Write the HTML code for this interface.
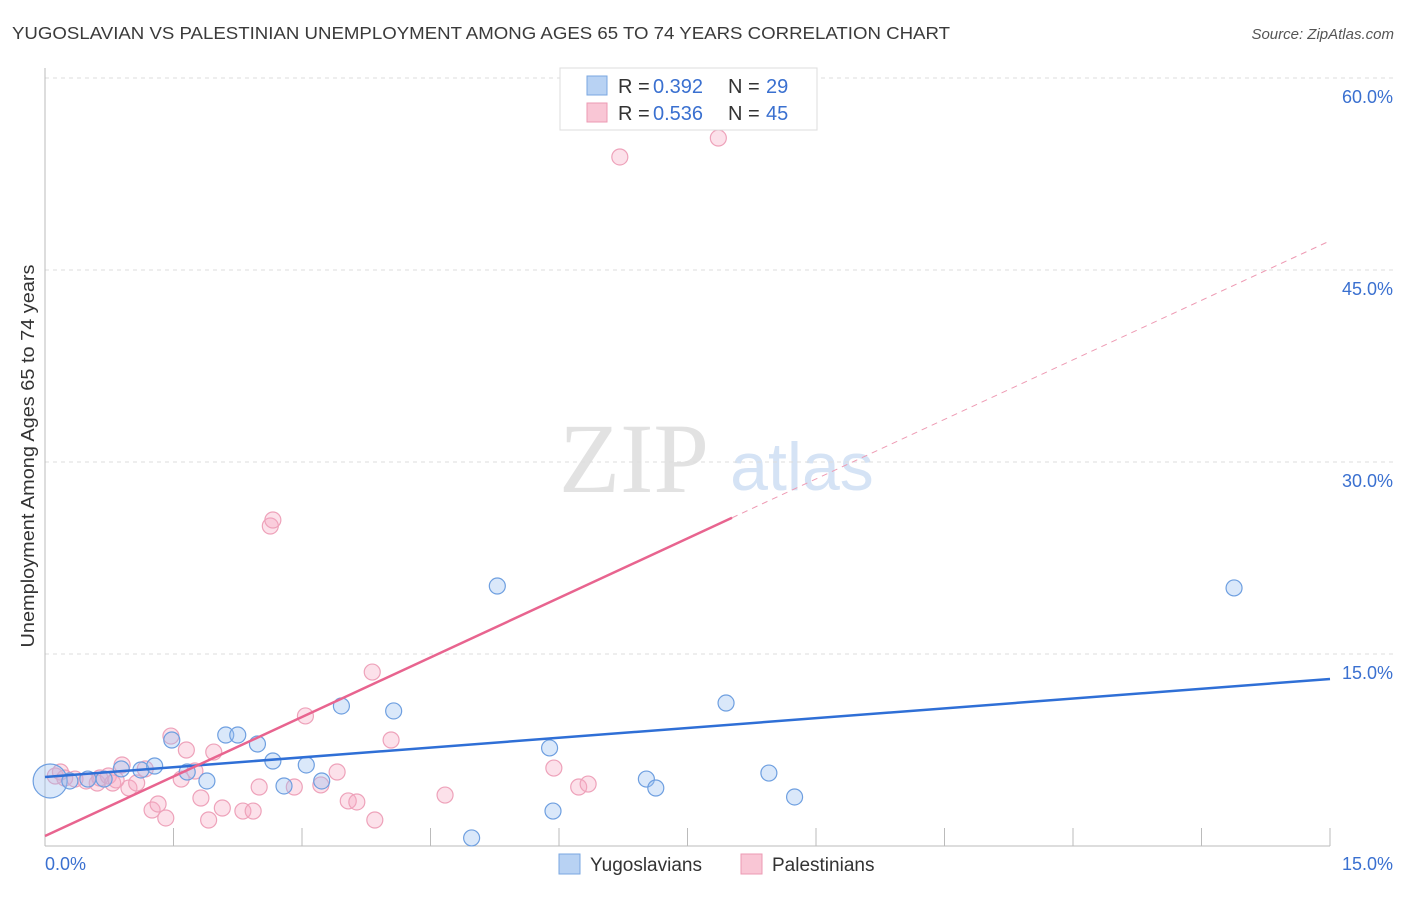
<!DOCTYPE html>
<html><head><meta charset="utf-8">
<style>
body{margin:0;background:#fff;}
</style></head>
<body>
<svg id="chart" width="1406" height="892" xmlns="http://www.w3.org/2000/svg" style="font-family:'Liberation Sans',sans-serif">
<text x="12" y="39" font-size="17.5" fill="#3a3a3a" textLength="938" lengthAdjust="spacingAndGlyphs">YUGOSLAVIAN VS PALESTINIAN UNEMPLOYMENT AMONG AGES 65 TO 74 YEARS CORRELATION CHART</text>
<text x="1394" y="39" font-size="15" fill="#555" font-style="italic" text-anchor="end">Source: ZipAtlas.com</text>
<text x="34" y="456" font-size="18" fill="#333" text-anchor="middle" textLength="383" lengthAdjust="spacingAndGlyphs" transform="rotate(-90 34 456)">Unemployment Among Ages 65 to 74 years</text>
<text x="634" y="492" font-size="100" fill="#e2e2e2" style="font-family:'Liberation Serif',serif" text-anchor="middle">ZIP</text>
<text x="802" y="490" font-size="68" fill="#d5e3f5" text-anchor="middle">atlas</text>
<g id="grid"></g>
<g id="marks"></g>
<g>
<rect x="560" y="68" width="257" height="62" fill="#fff" stroke="#ddd"/>
<rect x="587" y="76" width="20" height="19" fill="#b8d2f3" stroke="#7aa7e0"/>
<text x="618" y="93" font-size="20" fill="#333">R =</text>
<text x="653" y="93" font-size="20" fill="#3a70d0">0.392</text>
<text x="728" y="93" font-size="20" fill="#333">N =</text>
<text x="766" y="93" font-size="20" fill="#3a70d0">29</text>
<rect x="587" y="103" width="20" height="19" fill="#f9c6d5" stroke="#ec9ab3"/>
<text x="618" y="120" font-size="20" fill="#333">R =</text>
<text x="653" y="120" font-size="20" fill="#3a70d0">0.536</text>
<text x="728" y="120" font-size="20" fill="#333">N =</text>
<text x="766" y="120" font-size="20" fill="#3a70d0">45</text>
</g>
<g>
<rect x="559" y="854" width="21" height="20" fill="#b8d2f3" stroke="#7aa7e0"/>
<text x="590" y="871" font-size="19" fill="#333">Yugoslavians</text>
<rect x="741" y="854" width="21" height="20" fill="#f9c6d5" stroke="#ec9ab3"/>
<text x="772" y="871" font-size="19" fill="#333">Palestinians</text>
</g>
</svg>
<script>
const yTicks=[15,30,45,60];
const yTickLabels=["15.0%","30.0%","45.0%","60.0%"];
const blueX=[0.06,0.29,0.50,0.69,0.89,1.12,1.28,1.48,1.66,1.89,2.11,2.25,2.48,2.66,2.79,3.05,3.23,3.46,4.07,4.98,5.28,5.89,5.93,7.02,7.13,7.95,8.45,8.75,13.88];
const blueY=[5.08,5.08,5.23,5.23,6.02,5.94,6.25,8.28,5.78,5.08,8.67,8.67,7.97,6.64,4.69,6.33,5.08,10.94,10.55,0.63,20.31,7.66,2.73,5.23,4.53,11.17,5.70,3.83,20.16];
const pinkX=[0.12,0.18,0.23,0.35,0.48,0.61,0.64,0.74,0.79,0.83,0.90,0.98,1.07,1.17,1.25,1.32,1.41,1.47,1.59,1.65,1.75,1.82,1.91,1.97,2.07,2.31,2.43,2.50,2.63,2.66,2.91,3.04,3.22,3.41,3.54,3.64,3.82,3.85,4.04,4.67,5.94,6.23,6.34,6.71,7.86];
const pinkY=[5.47,5.78,5.31,5.23,5.08,4.92,5.31,5.47,4.92,5.16,6.33,4.53,4.92,6.02,2.81,3.28,2.19,8.59,5.23,7.50,5.86,3.75,2.03,7.34,2.97,2.73,2.73,4.61,25.0,25.47,4.61,10.16,4.77,5.78,3.52,3.44,13.59,2.03,8.28,3.98,6.09,4.61,4.84,53.83,55.31];
const blueTrend=[5.39,13.05];
const pinkTrend=[0.78,3.1];
const NS="http://www.w3.org/2000/svg";
const X=v=>45+v/15*1285;
const Y=v=>846-v*12.8;
function mk(t,a,p){const e=document.createElementNS(NS,t);for(const k in a)e.setAttribute(k,a[k]);p.appendChild(e);return e;}
const grid=document.getElementById('grid'),marks=document.getElementById('marks');
yTicks.forEach((t,i)=>{
 const l=mk('line',{x1:45,x2:1394,y1:Y(t),y2:Y(t),stroke:'#ddd','stroke-dasharray':'4,4'},grid);
 
 
 const tx=mk('text',{x:1393,y:Y(t)+25,'font-size':18,fill:'#3a70d0','text-anchor':'end'},grid);
 tx.textContent=yTickLabels[i];
 
 
});
const ax=mk('line',{x1:45,x2:1330,y1:846,y2:846,stroke:'#bbb'},grid);


const ay=mk('line',{x1:45,x2:45,y1:68,y2:846,stroke:'#bbb'},grid);


for(let i=1;i<=10;i++){const t=mk('line',{x1:X(i*1.5),x2:X(i*1.5),y1:828,y2:846,stroke:'#bbb'},grid);
 
 }
[["0.0%",45,'start'],["15.0%",1393,'end']].forEach(d=>{const t=mk('text',{x:d[1],y:870,'font-size':18,fill:'#3a70d0','text-anchor':d[2]},grid);t.textContent=d[0];
 
 });
pinkX.forEach((x,i)=>{const c=mk('circle',{cx:X(x),cy:Y(pinkY[i]),r:8,fill:'rgba(246,170,195,0.35)',stroke:'#eea2ba','stroke-width':1.2},marks);
 
 });
blueX.forEach((x,i)=>{const c=mk('circle',{cx:X(x),cy:Y(blueY[i]),r:i===0?17:8,fill:'rgba(150,190,240,0.35)',stroke:'#6e9fe0','stroke-width':1.2},marks);
 
 });
const bl=mk('line',{x1:X(0),y1:Y(blueTrend[0]),x2:X(15),y2:Y(blueTrend[1]),stroke:'#2f6fd6','stroke-width':2.5},marks);


const pm=8.02;
const pl=mk('line',{x1:X(0),y1:Y(pinkTrend[0]),x2:X(pm),y2:Y(pinkTrend[0]+pinkTrend[1]*pm),stroke:'#e8648f','stroke-width':2.5},marks);


const pd=mk('line',{x1:X(pm),y1:Y(pinkTrend[0]+pinkTrend[1]*pm),x2:X(15),y2:Y(pinkTrend[0]+pinkTrend[1]*15),stroke:'#ee9ab3','stroke-width':1,'stroke-dasharray':'6,5'},marks);


</script>
</body></html>
